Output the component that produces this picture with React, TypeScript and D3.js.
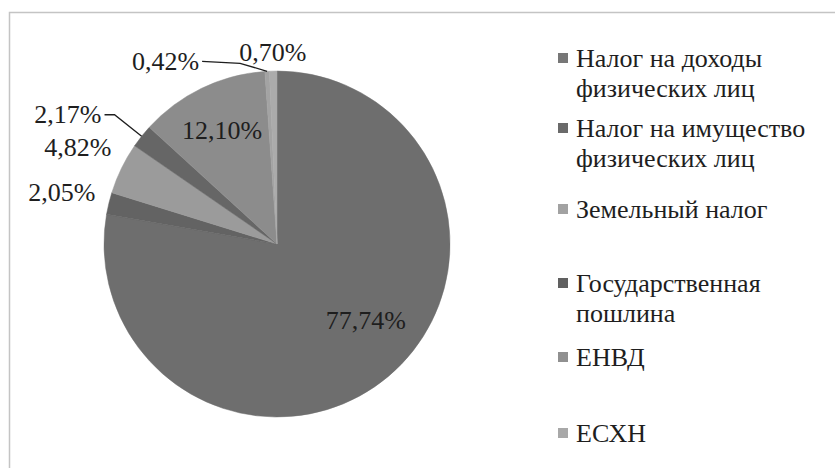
import * as React from "react";
import * as d3 from "d3";

// shares of tax revenue, %
const categories = [
  "Налог на доходы физических лиц",
  "Налог на имущество физических лиц",
  "Земельный налог",
  "Государственная пошлина",
  "ЕНВД",
  "ЕСХН",
  "Прочие",
];
const values = [77.74, 2.05, 4.82, 2.17, 12.1, 0.42, 0.7];
const sliceColors = ["#6e6e6e", "#636363", "#9b9b9b", "#666666", "#8c8c8c", "#a3a3a3", "#ababab"];

// legend text, split into lines as in the original (last category is cut off there)
const legendLines = [
  ["Налог на доходы", "физических лиц"],
  ["Налог на имущество", "физических лиц"],
  ["Земельный налог"],
  ["Государственная", "пошлина"],
  ["ЕНВД"],
  ["ЕСХН"],
];
const legendColors = ["#777777", "#6a6a6a", "#a2a2a2", "#606060", "#909090", "#a8a8a8"];

const fmt = (v: number) => v.toFixed(2).replace(".", ",") + "%";

const textColor = "#1e1e1e";
const fontSize = 26;

const cx = 277;
const cy = 244;
const radius = 173;

// label layout: k = radius factor along the slice middle, dx/dy nudge,
// leader labels get an elbow and a horizontal tail
const labelLayout: any[] = [
  { k: 0.68, dx: 13, dy: -14 },
  { k: 1.28, dx: 0, dy: 0 },
  { k: 1.28, dx: 0, dy: 0 },
  { leader: true, elbowK: 1.2, elbowDx: 0, elbowDy: 0, tail: 10 },
  { k: 0.73, dx: 0, dy: 0 },
  { leader: true, elbowK: 1.0, elbowDx: -27, elbowDy: -8, tail: 38 },
  { k: 1.11, dx: 0, dy: 0 },
];

export default function App() {
  const pie = d3
    .pie<number>()
    .sort(null)
    .value((d) => d)
    .startAngle(0)
    .endAngle(2 * Math.PI);
  const arcs = pie(values);
  const arc = d3.arc<d3.PieArcDatum<number>>().innerRadius(0).outerRadius(radius);
  const dir = (a: number) => [Math.sin(a), -Math.cos(a)];

  const legendTop = [58, 128, 209, 283, 357, 433];
  const lineGap = 30;

  const serif = { fontFamily: `"Times New Roman"` };

  return (
    <svg width={835} height={468} style={{ position: "absolute", left: 0, top: 0 }}>
      <rect x={0} y={0} width={835} height={468} fill="#ffffff" />
      {/* chart area frame */}
      <rect x={9.5} y={12.5} width={840} height={470} fill="none" stroke="#c4c4c4" strokeWidth={1.5} />

      <g transform={`translate(${cx},${cy})`}>
        {arcs.map((d, i) => (
          <path key={categories[i]} d={arc(d) || ""} fill={sliceColors[i]} stroke={sliceColors[i]} strokeWidth={0.5} />
        ))}
        {arcs.map((d, i) => {
          const lay = labelLayout[i];
          if (!lay.leader) return null;
          const mid = (d.startAngle + d.endAngle) / 2;
          const [ux, uy] = dir(mid);
          const p0: [number, number] = [ux * radius, uy * radius];
          const p1: [number, number] = [ux * radius * lay.elbowK + lay.elbowDx, uy * radius * lay.elbowK + lay.elbowDy];
          const p2: [number, number] = [p1[0] - lay.tail, p1[1] - (lay.tail > 20 ? 2 : 0)];
          return <path key={"ld" + i} d={d3.line()([p0, p1, p2]) || ""} fill="none" stroke="#1e1e1e" strokeWidth={1.3} />;
        })}
      </g>

      {arcs.map((d, i) => {
        const lay = labelLayout[i];
        const mid = (d.startAngle + d.endAngle) / 2;
        const [ux, uy] = dir(mid);
        let x: number;
        let y: number;
        let anchor = "middle";
        if (lay.leader) {
          const p1x = ux * radius * lay.elbowK + lay.elbowDx;
          const p1y = uy * radius * lay.elbowK + lay.elbowDy;
          x = p1x - lay.tail - 3;
          y = p1y - (lay.tail > 20 ? 2 : 0);
          anchor = "end";
        } else {
          x = ux * radius * lay.k + lay.dx;
          y = uy * radius * lay.k + lay.dy;
        }
        return (
          <text key={"lb" + i} x={cx + x} y={cy + y + fontSize * 0.33} textAnchor={anchor} fontSize={fontSize} fill={textColor} style={serif}>
            {fmt(values[i])}
          </text>
        );
      })}

      {/* legend */}
      {legendLines.map((lines, i) => (
        <rect key={"lm" + i} x={558} y={legendTop[i] - 5} width={10} height={10} fill={legendColors[i]} />
      ))}
      {legendLines.map((lines, i) =>
        lines.map((line, j) => (
          <text key={"lt" + i + "-" + j} x={576} y={legendTop[i] + j * lineGap + fontSize * 0.33} fontSize={fontSize} fill={textColor} style={serif}>
            {line}
          </text>
        ))
      )}
    </svg>
  );
}
